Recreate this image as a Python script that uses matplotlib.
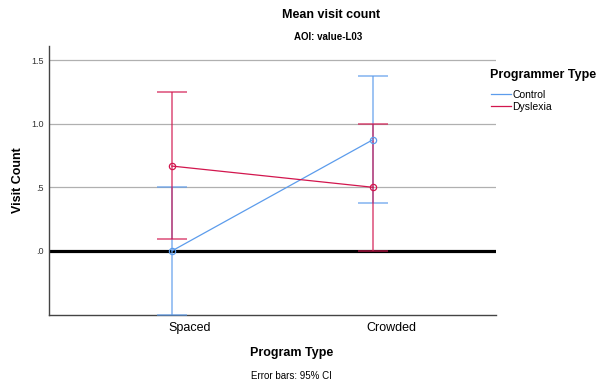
import numpy as np
from matplotlib import pyplot as plt
from matplotlib.transforms import ScaledTranslation

plt.rcParams['font.family'] = ['Liberation Sans', 'DejaVu Sans']

# mean visit count per program type, with 95% CI bounds
program_types = ['Spaced', 'Crowded']
control_mean = [0.0, 0.875]
control_low = [-0.5, 0.375]
control_high = [0.5, 1.375]
dyslexia_mean = [0.667, 0.5]
dyslexia_low = [0.092, 0.0]
dyslexia_high = [1.245, 1.0]

y_ticks = [0.0, 0.5, 1.0, 1.5]
y_tick_labels = ['.0', '.5', '1.0', '1.5']

blue = '#5C9CEC'
red = '#D2164E'

fig = plt.figure(figsize=(5.99, 3.85), dpi=100)
ax = fig.add_axes([0.0818, 0.1818, 0.7462, 0.6987])

x = np.arange(len(program_types))

for v in y_ticks[1:]:
    ax.axhline(v, color='#B0B0B0', lw=0.9, zorder=1)
ax.axhline(0, color='black', lw=2.3, zorder=2)


def draw_group(mean, low, high, color, label):
    mean = np.array(mean)
    err = [mean - np.array(low), np.array(high) - mean]
    ax.errorbar(x, mean, yerr=err, fmt='none', ecolor=color, elinewidth=1.2,
                capsize=10.6, capthick=1.2, alpha=0.7, zorder=3)
    ax.plot(x, mean, color=color, lw=0.9, marker='o', ms=4.5, mfc='none',
            mew=0.9, zorder=4, label=label)


draw_group(control_mean, control_low, control_high, blue, 'Control')
draw_group(dyslexia_mean, dyslexia_low, dyslexia_high, red, 'Dyslexia')

ax.set_xlim(-0.61, 1.61)
ax.set_ylim(-0.503, 1.61)
ax.set_xticks(x)
ax.set_xticklabels(program_types, fontsize=9)
ax.set_yticks(y_ticks)
ax.set_yticklabels(y_tick_labels, fontsize=6.5, color='#333333')
ax.tick_params(axis='both', length=0)
ax.tick_params(axis='x', pad=5)
ax.tick_params(axis='y', pad=3.5)
offset = ScaledTranslation(18 / 100, 0, fig.dpi_scale_trans)
for lbl in ax.get_xticklabels():
    lbl.set_transform(lbl.get_transform() + offset)

for side in ['top', 'right']:
    ax.spines[side].set_visible(False)
for side in ['left', 'bottom']:
    ax.spines[side].set_color('#444444')
    ax.spines[side].set_linewidth(1.0)

ax.set_ylabel('Visit Count', fontsize=9, fontweight='bold')
ax.yaxis.set_label_coords(-0.056, 0.5)

fig.text(0.553, 0.961, 'Mean visit count', ha='center', va='center',
         fontsize=9, fontweight='bold')
fig.text(0.548, 0.904, 'AOI: value-L03', ha='center', va='center',
         fontsize=7, fontweight='bold')
fig.text(0.487, 0.083, 'Program Type', ha='center', va='center',
         fontsize=9, fontweight='bold')
fig.text(0.487, 0.023, 'Error bars: 95% CI', ha='center', va='center',
         fontsize=7)

# legend title drawn separately so the gap below it can be set freely
fig.text(490 / 599, 1 - 75 / 385, 'Programmer Type', ha='left', va='center',
         fontsize=9, fontweight='bold')
leg = fig.legend(loc='upper left', bbox_to_anchor=(491 / 599, 1 - 90 / 385),
                 frameon=False, fontsize=7.5,
                 handlelength=1.9, handletextpad=0.15, labelspacing=0.2,
                 borderpad=0, borderaxespad=0)
for h in leg.legend_handles:
    h.set_marker('')

fig.savefig('out.png', dpi=100)
